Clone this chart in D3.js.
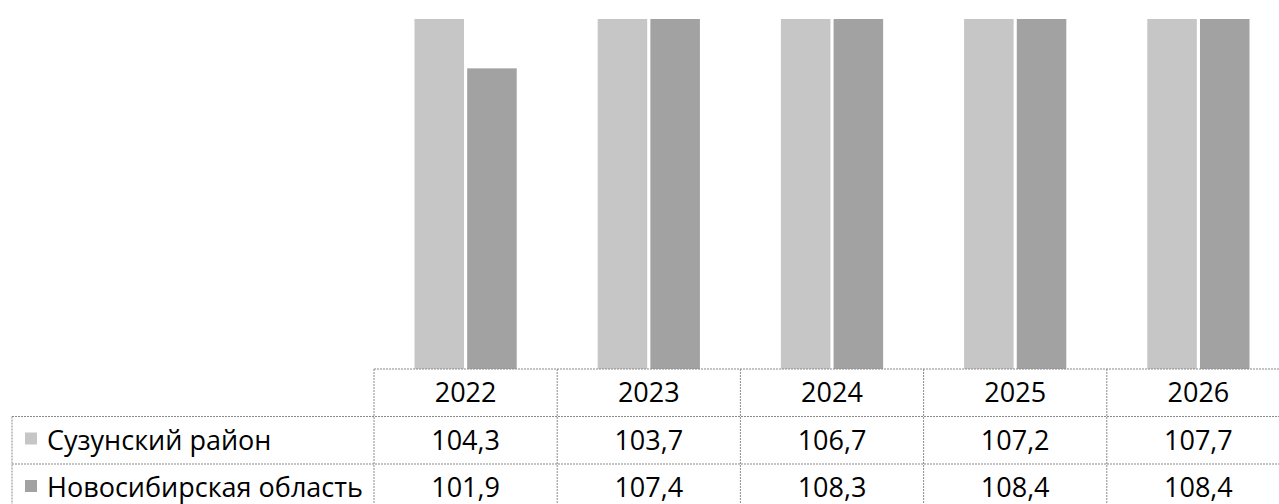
<!DOCTYPE html>
<html>
<head>
    <title>Сузунский район</title>
    <script src="https://d3js.org/d3.v7.min.js"></script>
    <style>
        body { margin: 0; background: #fff; }
    </style>
</head>
<body>
<script>
    var w = 1279;
    var h = 504;

    var years = ["2022", "2023", "2024", "2025", "2026"];
    var seriesNames = ["Сузунский район", "Новосибирская область"];
    var suzun = [104.3, 103.7, 106.7, 107.2, 107.7];
    var nso = [101.9, 107.4, 108.3, 108.4, 108.4];
    var valueLabels = [
        ["104,3", "103,7", "106,7", "107,2", "107,7"],
        ["101,9", "107,4", "108,3", "108,4", "108,4"]
    ];
    var colors = ["#c6c6c6", "#a2a2a2"];

    var plotTop = 19, plotBottom = 369;
    var tableLeft = 374, tableRight = 1290;
    var labelLeft = 12;
    var rowH = 47.5;

    // scales (outer padding = half inner, so each step is one table column)
    var xScale = d3.scaleBand()
                   .domain(years)
                   .range([tableLeft, tableRight])
                   .paddingInner(0.442)
                   .paddingOuter(0.221);
    var xInner = d3.scaleBand()
                   .domain([0, 1])
                   .range([0, xScale.bandwidth()])
                   .paddingInner(0.06);
    var yScale = d3.scaleLinear()
                   .domain([95.2, 103])
                   .range([plotBottom, plotTop]);

    var svg = d3.select("body")
                .append("svg")
                .attr("width", w)
                .attr("height", h);

    svg.append("clipPath").attr("id", "plot")
       .append("rect")
       .attr("x", 0).attr("y", plotTop)
       .attr("width", w).attr("height", plotBottom - plotTop);

    var rows = years.map(function(y, i){ return {year: y, vals: [suzun[i], nso[i]]}; });

    var groups = svg.append("g")
                    .attr("clip-path", "url(#plot)")
                    .selectAll("g")
                    .data(rows)
                    .enter()
                    .append("g")
                    .attr("transform", function(d){ return "translate(" + xScale(d.year) + ",0)"; });

    groups.selectAll("rect")
          .data(function(d){ return d.vals; })
          .enter()
          .append("rect")
          .attr("x", function(d, i){ return xInner(i); })
          .attr("y", function(d){ return yScale(d); })
          .attr("width", xInner.bandwidth())
          .attr("height", function(d){ return plotBottom - yScale(d); })
          .attr("fill", function(d, i){ return colors[i]; });

    // data table
    var grid = "#8a8a8a";
    var row1 = plotBottom + rowH, row2 = plotBottom + 2 * rowH;

    svg.append("line")
       .attr("x1", tableLeft).attr("x2", w)
       .attr("y1", plotBottom).attr("y2", plotBottom)
       .attr("stroke", grid).attr("stroke-width", 1.2).attr("stroke-dasharray", "2,1");
    [row1, row2].forEach(function(yy){
        svg.append("line")
           .attr("x1", labelLeft).attr("x2", w)
           .attr("y1", yy).attr("y2", yy)
           .attr("stroke", grid).attr("stroke-width", 1.2).attr("stroke-dasharray", "2,1");
    });

    svg.append("line")
       .attr("x1", labelLeft).attr("x2", labelLeft)
       .attr("y1", row1).attr("y2", h)
       .attr("stroke", grid).attr("stroke-dasharray", "2,1");
    var step = xScale.step();
    d3.range(years.length).forEach(function(i){
        var xx = tableLeft + i * step;
        svg.append("line")
           .attr("x1", xx).attr("x2", xx)
           .attr("y1", plotBottom).attr("y2", h)
           .attr("stroke", grid).attr("stroke-dasharray", "2,1");
    });

    var font = "'Open Sans', sans-serif";

    // header years
    svg.selectAll("text.year")
       .data(years)
       .enter()
       .append("text")
       .attr("class", "year")
       .attr("x", function(d){ return xScale(d) + xScale.bandwidth() / 2; })
       .attr("y", plotBottom + 33)
       .attr("text-anchor", "middle")
       .attr("font-family", font)
       .attr("font-size", "27px")
       .attr("fill", "#000")
       .text(function(d){ return d; });

    // series rows
    seriesNames.forEach(function(name, s){
        var top = plotBottom + (s + 1) * rowH;
        svg.append("rect")
           .attr("x", 25).attr("y", top + 16)
           .attr("width", 12).attr("height", 12)
           .attr("fill", colors[s]);
        svg.append("text")
           .attr("x", 47).attr("y", top + 33)
           .attr("font-family", font)
           .attr("font-size", "27px")
           .attr("fill", "#000")
           .text(name);
        svg.selectAll("text.v" + s)
           .data(valueLabels[s])
           .enter()
           .append("text")
           .attr("class", "v" + s)
           .attr("x", function(d, i){ return xScale(years[i]) + xScale.bandwidth() / 2; })
           .attr("y", top + 33)
           .attr("text-anchor", "middle")
           .attr("font-family", font)
           .attr("font-size", "27px")
           .attr("fill", "#000")
           .text(function(d){ return d; });
    });
</script>
</body>
</html>
